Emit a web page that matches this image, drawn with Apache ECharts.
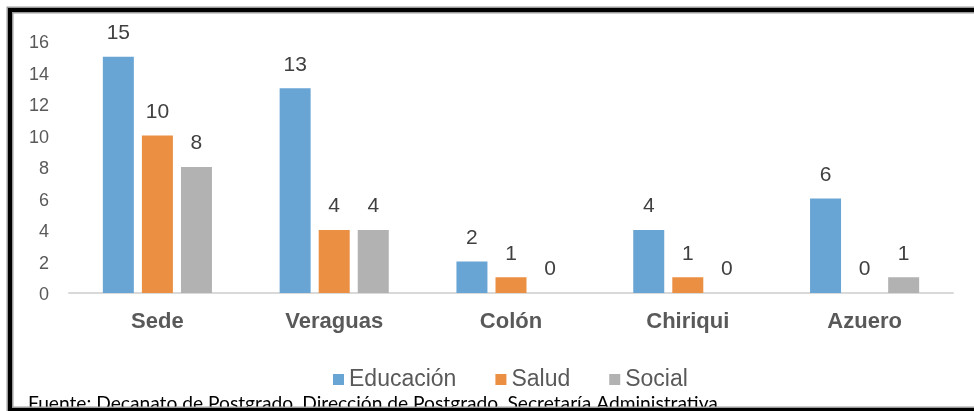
<!DOCTYPE html>
<html>
<head>
<meta charset="utf-8">
<script src="https://cdn.jsdelivr.net/npm/echarts@6/dist/echarts.min.js"></script>
<style>
  html, body { margin: 0; padding: 0; background: #fff; }
  #chart { width: 974px; height: 411px; }
</style>
</head>
<body>
<div id="chart"></div>
<script>
  // datos
  var sedes = ['Sede', 'Veraguas', 'Colón', 'Chiriqui', 'Azuero'];
  var educacion = [15, 13, 2, 4, 6];
  var salud = [10, 4, 1, 1, 0];
  var social = [8, 4, 0, 0, 1];
  var nota = 'Fuente: Decanato de Postgrado, Dirección de Postgrado, Secretaría Administrativa.';

  var chart = echarts.init(document.getElementById('chart'));

  function serie(nombre, datos, color) {
    return {
      name: nombre,
      type: 'bar',
      data: datos,
      barWidth: 31,
      barGap: '26%',
      itemStyle: { color: color },
      label: {
        show: true,
        position: 'top',
        distance: 13,
        color: '#404040',
        fontSize: 21,
        fontFamily: 'Liberation Sans'
      }
    };
  }

  chart.setOption({
    animation: false,
    textStyle: { fontFamily: 'Liberation Sans' },
    grid: { left: 69, right: 21, top: 41, bottom: 118 },
    legend: {
      top: 363,
      left: 328,
      itemWidth: 11,
      itemHeight: 11,
      itemGap: 39,
      icon: 'rect',
      textStyle: { fontSize: 23, color: '#595959', fontFamily: 'Liberation Sans' },
      data: ['Educación', 'Salud', 'Social']
    },
    xAxis: {
      type: 'category',
      data: sedes,
      axisTick: { show: false },
      axisLine: { lineStyle: { color: '#d9d9d9', width: 2 } },
      axisLabel: { fontSize: 22, fontWeight: 'bold', color: '#595959', margin: 18 }
    },
    yAxis: {
      type: 'value',
      min: 0,
      max: 16,
      interval: 2,
      splitLine: { show: false },
      axisLine: { show: false },
      axisTick: { show: false },
      axisLabel: {
        margin: 20,
        formatter: '{v|{value}}',
        rich: { v: { fontSize: 18, color: '#595959', padding: [5, 0, 0, 0] } }
      }
    },
    series: [
      serie('Educación', educacion, '#68a5d5'),
      serie('Salud', salud, '#eb8f43'),
      serie('Social', social, '#b2b2b2')
    ],
    graphic: [
      {
        type: 'text',
        left: 28,
        top: 394,
        style: { text: nota, fontSize: 19.2, fontFamily: 'Lato', fill: '#000' }
      },
      {
        type: 'rect',
        shape: { x: 10, y: 10, width: 1000, height: 400 },
        style: { fill: null, stroke: '#9a9a9a', lineWidth: 7 }
      },
      {
        type: 'rect',
        shape: { x: 10, y: 10, width: 1000, height: 400 },
        style: { fill: null, stroke: '#000', lineWidth: 4 }
      }
    ]
  });
</script>
</body>
</html>
